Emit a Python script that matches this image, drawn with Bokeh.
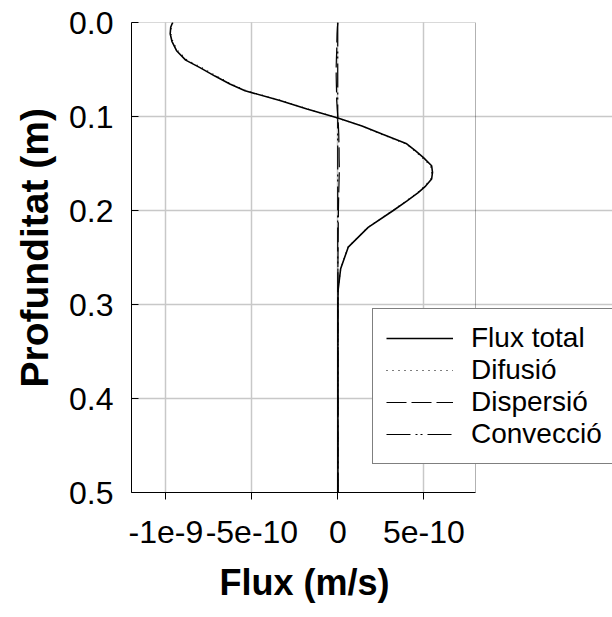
from bokeh.plotting import figure
from bokeh.models import (Range1d, FixedTicker, PrintfTickFormatter, Legend, LegendItem,
                          BoxAnnotation, Title)
from bokeh.embed import file_html
from bokeh.resources import INLINE

# Depth (m)
depth = [0.0, 0.005, 0.012, 0.02, 0.03, 0.04, 0.048, 0.057, 0.0655, 0.0726,
         0.083, 0.092, 0.1017, 0.11, 0.119, 0.129, 0.1364, 0.1435, 0.1524, 0.1595,
         0.1665, 0.174, 0.181, 0.19, 0.200, 0.218, 0.239, 0.262, 0.285, 0.3,
         0.35, 0.4, 0.45, 0.5]

# Flux total (m/s)
flux_total = [-9.61e-10, -9.72e-10, -9.75e-10, -9.65e-10, -9.38e-10, -8.85e-10, -8.02e-10,
              -7.15e-10, -6.28e-10, -5.40e-10, -3.37e-10, -1.80e-10, 0.0, 1.40e-10, 2.60e-10,
              4.00e-10, 4.50e-10, 4.96e-10, 5.45e-10, 5.50e-10, 5.45e-10, 5.10e-10, 4.67e-10,
              4.00e-10, 3.22e-10, 1.76e-10, 0.60e-10, 0.16e-10, 0.01e-10, 0.0,
              0.0, 0.0, 0.0, 0.0]

# Difusió (m/s)
difusio = [-9.60e-10, -9.68e-10, -9.72e-10, -9.60e-10, -9.32e-10, -8.76e-10, -7.92e-10,
           -7.06e-10, -6.20e-10, -5.33e-10, -3.30e-10, -1.76e-10, 0.0, 1.36e-10, 2.55e-10,
           3.95e-10, 4.45e-10, 4.90e-10, 5.38e-10, 5.45e-10, 5.40e-10, 5.06e-10, 4.63e-10,
           3.97e-10, 3.19e-10, 1.74e-10, 0.59e-10, 0.16e-10, 0.01e-10, 0.0,
           0.0, 0.0, 0.0, 0.0]

# Dispersió (m/s)
dispersio = [0.0, -0.03e-10, -0.05e-10, -0.06e-10, -0.07e-10, -0.09e-10, -0.10e-10,
             -0.10e-10, -0.09e-10, -0.08e-10, -0.07e-10, -0.04e-10, 0.0, 0.03e-10, 0.05e-10,
             0.06e-10, 0.07e-10, 0.07e-10, 0.08e-10, 0.08e-10, 0.07e-10, 0.06e-10, 0.05e-10,
             0.04e-10, 0.03e-10, 0.02e-10, 0.01e-10, 0.0, 0.0, 0.0,
             0.0, 0.0, 0.0, 0.0]

# Convecció (m/s)
conveccio = [-0.01e-10, -0.01e-10, -0.01e-10, -0.01e-10, -0.01e-10, -0.01e-10, -0.01e-10,
             -0.01e-10, -0.01e-10, -0.01e-10, -0.01e-10, -0.01e-10, -0.01e-10, -0.01e-10, -0.01e-10,
             -0.01e-10, -0.01e-10, -0.01e-10, -0.01e-10, -0.01e-10, -0.01e-10, -0.01e-10, -0.01e-10,
             -0.01e-10, -0.01e-10, -0.01e-10, -0.01e-10, 0.0, 0.0, 0.0,
             0.0, 0.0, 0.0, 0.0]

x_ticks = [-1e-9, -5e-10, 0.0, 5e-10]
x_tick_labels = ["-1e-9", "-5e-10", "0", "5e-10"]
y_ticks = [0.0, 0.1, 0.2, 0.3, 0.4, 0.5]
y_grid = [0.1, 0.2, 0.3, 0.4]
x_min, x_max = -1.2e-9, 8e-10
y_min, y_max = 0.0, 0.5

series_names = ["Flux total", "Difusió", "Dispersió", "Convecció"]
x_label = "Flux (m/s)"
y_label = "Profunditat (m)"

FONT = "Liberation Sans"

# layout (pixels)
W, H = 612, 617
LEFT, TOP, BOTTOM = 131, 22, 125
AXES_RIGHT = 475            # right edge of the drawn axes box
frame_w = W - LEFT          # frame extends to window edge so the legend can overflow the box
x_end = x_min + (x_max - x_min) * frame_w / (AXES_RIGHT - LEFT)

p = figure(width=W, height=H,
           x_range=Range1d(x_min, x_end), y_range=Range1d(y_max, y_min),
           output_backend="svg", toolbar_location=None,
           min_border_left=LEFT, min_border_right=0,
           min_border_top=TOP, min_border_bottom=BOTTOM)

p.background_fill_color = "white"
p.border_fill_color = "white"
p.outline_line_color = None

# grid
p.xgrid.ticker = FixedTicker(ticks=x_ticks)
p.ygrid.ticker = FixedTicker(ticks=y_grid)
p.ygrid.bounds = (x_min, x_max)
for g in (p.xgrid, p.ygrid):
    g.grid_line_color = "#c8c8c8"
    g.grid_line_width = 1.5

# axes
xa = p.xaxis[0]
ya = p.yaxis[0]
xa.ticker = FixedTicker(ticks=x_ticks)
xa.major_label_overrides = {t: l for t, l in zip(x_ticks, x_tick_labels)}
xa.bounds = (x_min, x_max)
ya.ticker = FixedTicker(ticks=y_ticks)
ya.formatter = PrintfTickFormatter(format="%.1f")

for ax in (xa, ya):
    ax.axis_line_color = "black"
    ax.major_tick_line_color = "black"
    ax.minor_tick_line_color = None
    ax.major_label_text_font = FONT
    ax.major_label_text_font_size = "32px"
    ax.major_label_text_color = "black"

xa.major_tick_in = 0
xa.major_tick_out = 7
xa.major_label_standoff = 21

ya.major_tick_in = 7
ya.major_tick_out = 0
ya.major_label_standoff = 18

# axis titles (placed as side titles so they centre on the drawn box, not the wider frame)
xt = Title(text=x_label, align="left", offset=88, standoff=29,
           text_font=FONT, text_font_size="36px", text_font_style="bold", text_color="black")
p.add_layout(xt, "below")
yt = Title(text=y_label, align="left", offset=105, standoff=21,
           text_font=FONT, text_font_size="39px", text_font_style="bold", text_color="black")
p.add_layout(yt, "left")

# axes box
box = BoxAnnotation(left=x_min, right=x_max, top=y_min, bottom=y_max,
                    fill_alpha=0, line_color="black", line_width=1)
p.add_layout(box)

# lines
r_conv = p.line(conveccio, depth, line_color="black", line_width=1.2, line_dash="24 5 2 3 2 5")
r_disp = p.line(dispersio, depth, line_color="black", line_width=1.2, line_dash="20 5")
r_dif = p.line(difusio, depth, line_color="black", line_width=1.2, line_dash="1 5")
r_tot = p.line(flux_total, depth, line_color="black", line_width=1.6)

legend = Legend(items=[LegendItem(label=series_names[0], renderers=[r_tot]),
                       LegendItem(label=series_names[1], renderers=[r_dif]),
                       LegendItem(label=series_names[2], renderers=[r_disp]),
                       LegendItem(label=series_names[3], renderers=[r_conv])],
                location=(241, 28))
legend.label_text_font = FONT
legend.label_text_font_size = "28px"
legend.label_text_color = "black"
legend.label_height = 30
legend.glyph_height = 30
legend.glyph_width = 67
legend.label_standoff = 18
legend.spacing = 0
legend.padding = 13
legend.margin = 0
legend.border_line_color = "black"
legend.border_line_width = 1
legend.background_fill_color = "white"
legend.background_fill_alpha = 1.0
p.add_layout(legend, "center")

open("out.html", "w").write(file_html(p, INLINE))
